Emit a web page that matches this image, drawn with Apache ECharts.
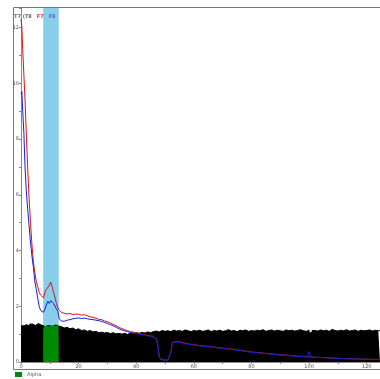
<!DOCTYPE html>
<html>
<head>
<meta charset="utf-8">
<script src="https://cdn.jsdelivr.net/npm/echarts@6/dist/echarts.min.js"></script>
<style>
  html, body { margin: 0; padding: 0; background: #fff; }
  #main { width: 380px; height: 379px; }
</style>
</head>
<body>
<div id="main"></div>
<script>
// sample positions shared by the two traces
var xLine = [
    0, 0.3, 0.6, 1.0, 1.4, 1.8, 2.3, 2.8, 3.3, 3.8,
    4.3, 4.8, 5.3, 5.8, 6.3, 6.8, 7.3, 7.8, 8.3, 8.8,
    9.3, 9.8, 10.3, 10.8, 11.3, 11.8, 12.3, 12.8, 13.3, 14,
    15, 16, 17, 18, 19, 20, 21, 22, 23, 24,
    25, 26, 27, 28, 29, 30, 31, 32, 33, 34,
    35, 36, 37, 38, 39, 40, 41, 42, 43, 44,
    45, 46, 47, 47.5, 48, 48.5, 49, 50, 51, 51.5,
    52, 52.5, 53, 54, 56, 58, 60, 62, 64, 66,
    68, 70, 72, 74, 76, 78, 80, 82, 84, 86,
    88, 90, 92, 94, 96, 98, 99.5, 100, 100.5, 102,
    104, 106, 108, 110, 112, 114, 116, 118, 120, 122,
    124.6
];
var redVals = [
    12.3, 12.0, 11.2, 10.3, 9.4, 8.3, 7.0, 5.9, 5.0, 4.2,
    3.6, 3.2, 2.9, 2.7, 2.5, 2.4, 2.35, 2.3, 2.5, 2.6,
    2.55, 2.75, 2.87, 2.7, 2.5, 2.3, 2.1, 1.94, 1.85, 1.78,
    1.75, 1.72, 1.74, 1.70, 1.72, 1.71, 1.68, 1.70, 1.66, 1.62,
    1.60, 1.57, 1.53, 1.52, 1.47, 1.44, 1.40, 1.35, 1.30, 1.24,
    1.20, 1.16, 1.12, 1.09, 1.07, 1.05, 1.03, 1.00, 0.98, 0.96,
    0.94, 0.90, 0.84, 0.60, 0.20, 0.09, 0.07, 0.07, 0.07, 0.10,
    0.35, 0.70, 0.76, 0.74, 0.70, 0.65, 0.62, 0.59, 0.57, 0.55,
    0.52, 0.50, 0.47, 0.45, 0.42, 0.39, 0.36, 0.34, 0.32, 0.30,
    0.28, 0.26, 0.25, 0.23, 0.21, 0.20, 0.19, 0.19, 0.18, 0.17,
    0.16, 0.15, 0.14, 0.13, 0.12, 0.12, 0.11, 0.11, 0.10, 0.10,
    0.09
];
var blueVals = [
    9.6, 9.7, 9.0, 8.2, 7.0, 6.2, 5.5, 4.9, 4.3, 3.8,
    3.4, 2.9, 2.6, 2.3, 2.0, 1.85, 1.8, 1.78, 1.9, 2.05,
    2.18, 2.1, 2.2, 2.25, 2.1, 2.0, 1.9, 1.82, 1.55, 1.47,
    1.46, 1.50, 1.52, 1.55, 1.57, 1.58, 1.56, 1.57, 1.55, 1.53,
    1.52, 1.50, 1.48, 1.46, 1.42, 1.38, 1.34, 1.30, 1.25, 1.19,
    1.15, 1.12, 1.09, 1.06, 1.04, 1.02, 1.00, 0.98, 0.96, 0.94,
    0.92, 0.89, 0.83, 0.60, 0.20, 0.09, 0.07, 0.07, 0.07, 0.10,
    0.35, 0.69, 0.74, 0.72, 0.68, 0.64, 0.61, 0.58, 0.56, 0.54,
    0.51, 0.49, 0.46, 0.44, 0.41, 0.38, 0.35, 0.33, 0.31, 0.29,
    0.27, 0.25, 0.24, 0.22, 0.20, 0.19, 0.18, 0.38, 0.18, 0.17,
    0.16, 0.15, 0.14, 0.13, 0.12, 0.11, 0.11, 0.10, 0.10, 0.09,
    0.09
];
// histogram, one bin per unit starting at 0
var binVals = [
    1.30, 1.34, 1.28, 1.36, 1.31, 1.38, 1.33, 1.29,
    1.20, 1.30, 1.27, 1.33, 1.29,
    1.27, 1.22, 1.25, 1.19, 1.22, 1.16, 1.19,
    1.13, 1.15, 1.10, 1.13, 1.08, 1.10, 1.05, 1.07, 1.04, 1.06,
    1.02, 1.05, 1.01, 1.03, 1.00, 1.03, 0.99, 1.04, 1.02, 1.05,
    1.03, 1.06, 1.04, 1.08, 1.05, 1.09, 1.11, 1.08, 1.13, 1.10,
    1.12, 1.09, 1.14, 1.11, 1.13, 1.10, 1.15, 1.12, 1.09, 1.13,
    1.11, 1.14, 1.10, 1.12, 1.15, 1.09, 1.13, 1.11, 1.14, 1.10,
    1.12, 1.16, 1.11, 1.13, 1.09, 1.14, 1.12, 1.15, 1.10, 1.13,
    1.11, 1.14, 1.12, 1.16, 1.10, 1.13, 1.15, 1.11, 1.14, 1.12,
    1.10, 1.15, 1.12, 1.14, 1.11, 1.13, 1.16, 1.12, 1.10, 1.14,
    1.05, 1.13, 1.11, 1.15, 1.12, 1.14, 1.10, 1.17, 1.13, 1.11,
    1.14, 1.12, 1.16, 1.11, 1.13, 1.15, 1.10, 1.14, 1.12, 1.13,
    1.15, 1.11, 1.14, 1.12, 1.13
];
// highlighted (Alpha) part of the histogram
var alphaX = [7.7, 8, 9, 10, 11, 12, 13, 13.1];
var alphaVals = [1.18, 1.30, 1.27, 1.33, 1.29, 1.31, 1.28, 1.28];
var bandRange = [7.7, 13.1];

var xMax = 124.6;

function pairs(xs, ys) {
    return xs.map(function (x, i) { return [x, ys[i]]; });
}
var binData = binVals.map(function (v, i) { return [i, v]; });
binData.push([xMax, binVals[binVals.length - 1]]);

var option = {
    animation: false,
    title: {
        left: 14,
        top: 8,
        padding: 0,
        text: '{g|T7 (T8} {r|F7} {b|F8}',
        textStyle: {
            rich: {
                g: { fontSize: 5, color: '#666', fontFamily: 'DejaVu Sans' },
                r: { fontSize: 5, color: '#e03030', fontFamily: 'DejaVu Sans' },
                b: { fontSize: 5, color: '#6060d0', fontFamily: 'DejaVu Sans' }
            }
        }
    },
    legend: {
        data: ['Alpha'],
        left: 15,
        top: 372,
        padding: 0,
        icon: 'rect',
        itemWidth: 7,
        itemHeight: 5,
        itemGap: 2,
        textStyle: { fontSize: 5, color: '#555', fontFamily: 'DejaVu Sans' }
    },
    grid: { left: 21, right: 0, top: 8, bottom: 17, outerBoundsMode: 'none' },
    graphic: [{
        type: 'rect',
        z: 100,
        shape: { x: 13.5, y: 7.5, width: 380, height: 362 },
        style: { fill: 'none', stroke: '#777', lineWidth: 1 }
    }],
    xAxis: {
        type: 'value',
        min: 0,
        max: xMax,
        interval: 10,
        splitLine: { show: false },
        axisLine: { lineStyle: { color: '#888' } },
        axisTick: { length: 2, lineStyle: { color: '#888' } },
        axisLabel: {
            fontSize: 5, color: '#555', margin: 2, fontFamily: 'DejaVu Sans',
            formatter: function (v) { return v % 20 === 0 ? v : ''; }
        }
    },
    yAxis: {
        type: 'value',
        min: 0,
        max: 12.7,
        interval: 1,
        splitLine: { show: false },
        axisLine: { show: true, lineStyle: { color: '#888' } },
        axisTick: { show: true, length: 2, lineStyle: { color: '#888' } },
        axisLabel: {
            fontSize: 5, color: '#555', margin: 2, fontFamily: 'DejaVu Sans',
            formatter: function (v) { return v % 2 === 0 ? v : ''; }
        }
    },
    series: [
        {
            type: 'line',
            z: 1,
            data: [],
            markArea: {
                silent: true,
                itemStyle: { color: '#87ceeb', opacity: 1 },
                data: [[{ xAxis: bandRange[0] }, { xAxis: bandRange[1] }]]
            }
        },
        {
            name: 'Background',
            type: 'line',
            z: 2,
            step: 'end',
            showSymbol: false,
            data: binData,
            lineStyle: { color: '#000', width: 1 },
            itemStyle: { color: '#000' },
            areaStyle: { color: '#000', opacity: 1 }
        },
        {
            name: 'Alpha',
            type: 'line',
            z: 3,
            step: 'end',
            showSymbol: false,
            data: pairs(alphaX, alphaVals),
            lineStyle: { color: '#008a00', width: 0 },
            itemStyle: { color: '#008a00' },
            areaStyle: { color: '#008a00', opacity: 1 }
        },
        {
            name: 'F7',
            type: 'line',
            z: 4,
            showSymbol: false,
            data: pairs(xLine, redVals),
            lineStyle: { color: '#e01010', width: 1 }
        },
        {
            name: 'F8',
            type: 'line',
            z: 5,
            showSymbol: false,
            data: pairs(xLine, blueVals),
            lineStyle: { color: '#1020d8', width: 1 }
        }
    ]
};

var myChart = echarts.init(document.getElementById('main'));
myChart.setOption(option);
</script>
</body>
</html>
